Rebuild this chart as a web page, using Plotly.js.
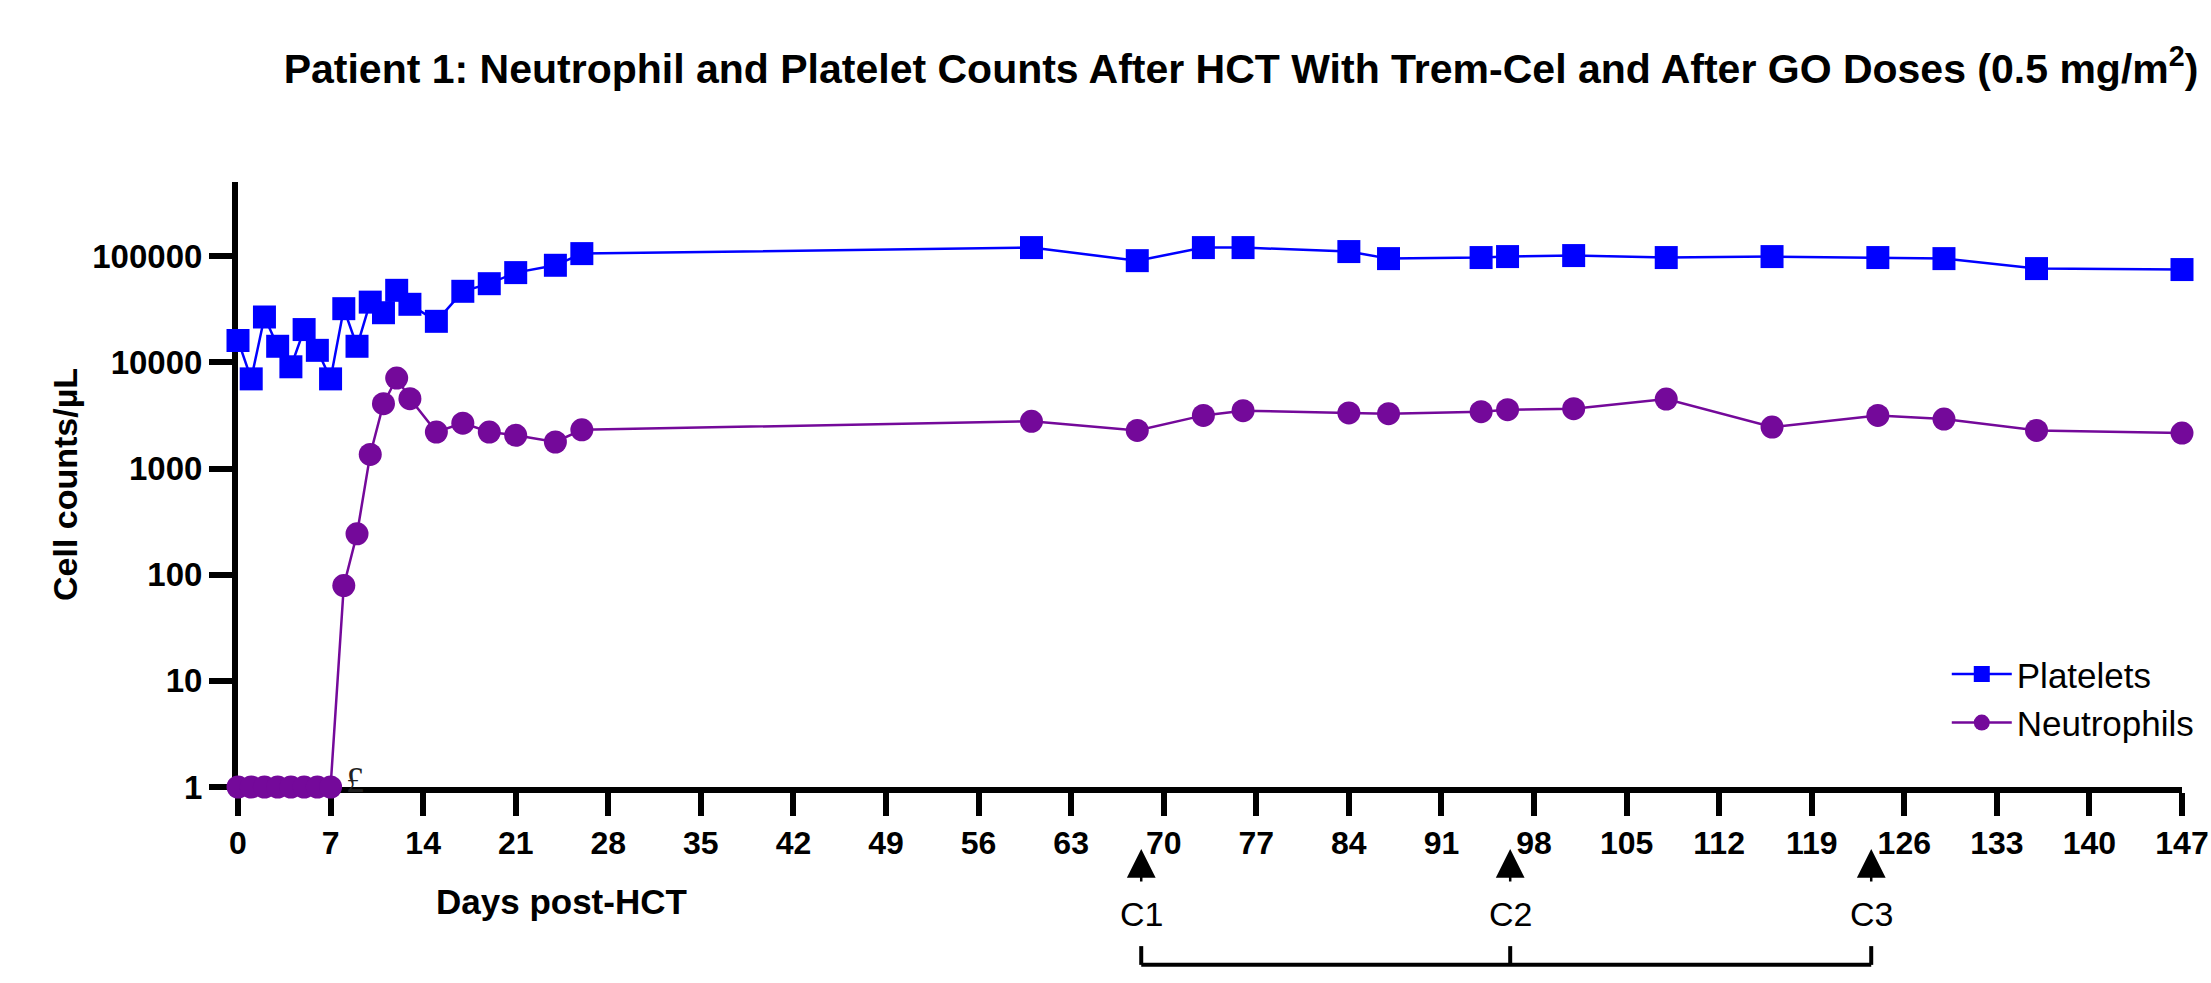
<!DOCTYPE html>
<html>
<head>
<meta charset="utf-8">
<script src="https://cdn.plot.ly/plotly-3.0.1.min.js"></script>
<style>html,body{margin:0;padding:0;background:#fff;}#chart{width:2211px;height:983px;}</style>
</head>
<body>
<div id="chart"></div>
<script>
// ---- data ----
const plateletDays = [0,1,2,3,4,5,6,7,8,9,10,11,12,13,15,17,19,21,24,26,60,68,73,76,84,87,94,96,101,108,116,124,129,136,147];
const plateletCounts = [16100,7000,26800,14200,9100,20400,13000,7000,32100,14200,37000,29400,47800,35300,24400,46800,55200,70200,82300,106000,120800,91000,120800,120800,110800,95100,97300,99400,101600,97300,99400,97300,95100,76600,75000];
const neutrophilDays = [0,1,2,3,4,5,6,7,8,9,10,11,12,13,15,17,19,21,24,26,60,68,73,76,84,87,94,96,101,108,116,124,129,136,147];
const neutrophilCounts = [1,1,1,1,1,1,1,1,79,243,1360,4090,7130,4560,2210,2680,2210,2060,1780,2320,2790,2290,3170,3510,3340,3290,3440,3590,3670,4520,2460,3170,2930,2290,2160];
const xTickVals = [0,7,14,21,28,35,42,49,56,63,70,77,84,91,98,105,112,119,126,133,140,147];
const yTickVals = [1,10,100,1000,10000,100000];
const yTickText = ['1','10','100','1000','10000','100000'];
const cycleLabels = ['C1','C2','C3'];
const cycleDays = [68.3,96.2,123.5];

const FONT = 'Liberation Sans, Arial, Helvetica, sans-serif';
const BLUE = '#0000FF';
const PURPLE = '#74099A';

const traces = [
  {x: plateletDays, y: plateletCounts, name: 'Platelets', type: 'scatter', mode: 'lines+markers',
   line: {color: BLUE, width: 2.5}, marker: {symbol: 'square', size: 23, color: BLUE}, cliponaxis: false},
  {x: neutrophilDays, y: neutrophilCounts, name: 'Neutrophils', type: 'scatter', mode: 'lines+markers',
   line: {color: PURPLE, width: 2.5}, marker: {symbol: 'circle', size: 23, color: PURPLE}, cliponaxis: false}
];

const annotations = [
  {text: 'Days post-HCT', xref: 'paper', yref: 'paper', x: 0.1663, y: -0.19, showarrow: false,
   xanchor: 'center', yanchor: 'middle', font: {family: FONT, size: 35, color: '#000', weight: 'bold'}},
  {text: '£', xref: 'x', yref: 'y', x: 7, y: 0, xanchor: 'left', yanchor: 'middle', xshift: 13, yshift: 7,
   showarrow: false, font: {family: 'Liberation Serif, Times New Roman, serif', size: 36, color: '#222'}}
];
const shapes = [];
cycleDays.forEach((d, i) => {
  annotations.push({text: cycleLabels[i], xref: 'x', yref: 'paper', x: d, y: -0.1025, ax: 0, ay: 65,
    showarrow: true, arrowhead: 2, arrowsize: 2.3, arrowwidth: 2.5, arrowcolor: '#000', standoff: 0,
    startstandoff: 12, font: {family: FONT, size: 34, color: '#000'}});
  shapes.push({type: 'line', xref: 'x', yref: 'paper', x0: d, x1: d, y0: -0.294, y1: -0.263,
    line: {color: '#000', width: 4}});
});
shapes.push({type: 'line', xref: 'x', yref: 'paper', x0: cycleDays[0], x1: cycleDays[cycleDays.length-1],
  y0: -0.294, y1: -0.294, line: {color: '#000', width: 4}});

const layout = {
  width: 2211, height: 983,
  paper_bgcolor: '#fff', plot_bgcolor: '#fff',
  margin: {l: 238, r: 29, t: 182, b: 196, autoexpand: false},
  font: {family: FONT, color: '#000'},
  title: {text: 'Patient 1: Neutrophil and Platelet Counts After HCT With Trem-Cel and After GO Doses (0.5 mg/m<sup>2</sup>)',
    x: 0.5613, xanchor: 'center', xref: 'container', y: 0.93, yanchor: 'middle', yref: 'container',
    font: {family: FONT, size: 41, color: '#000', weight: 'bold'}},
  showlegend: true,
  legend: {x: 0.879, xanchor: 'left', y: 0.235, yanchor: 'top', bgcolor: 'rgba(0,0,0,0)',
    font: {family: FONT, size: 35, color: '#000'}, itemwidth: 60, tracegroupgap: 0},
  xaxis: {range: [0, 147], tickmode: 'array', tickvals: xTickVals, showgrid: false, zeroline: false,
    showline: true, linecolor: '#000', linewidth: 6, ticks: 'outside', ticklen: 23, tickwidth: 6, tickcolor: '#000',
    tickfont: {family: FONT, size: 32, color: '#000', weight: 'bold'}, layer: 'below traces', fixedrange: true,
    automargin: false, ticklabeloverflow: 'allow'},
  yaxis: {type: 'log', range: [0, 5.70], tickmode: 'array', tickvals: yTickVals, ticktext: yTickText,
    showgrid: false, zeroline: false, showline: true, linecolor: '#000', linewidth: 6, ticks: 'outside',
    ticklen: 23, tickwidth: 6, tickcolor: '#000', tickfont: {family: FONT, size: 33, color: '#000', weight: 'bold'},
    title: {text: 'Cell counts/µL', standoff: 6, font: {family: FONT, size: 34, color: '#000', weight: 'bold'}},
    layer: 'below traces', automargin: false, fixedrange: true, ticklabeloverflow: 'allow'},
  annotations: annotations,
  shapes: shapes
};

Plotly.newPlot('chart', traces, layout, {displayModeBar: false, staticPlot: true});
</script>
</body>
</html>
